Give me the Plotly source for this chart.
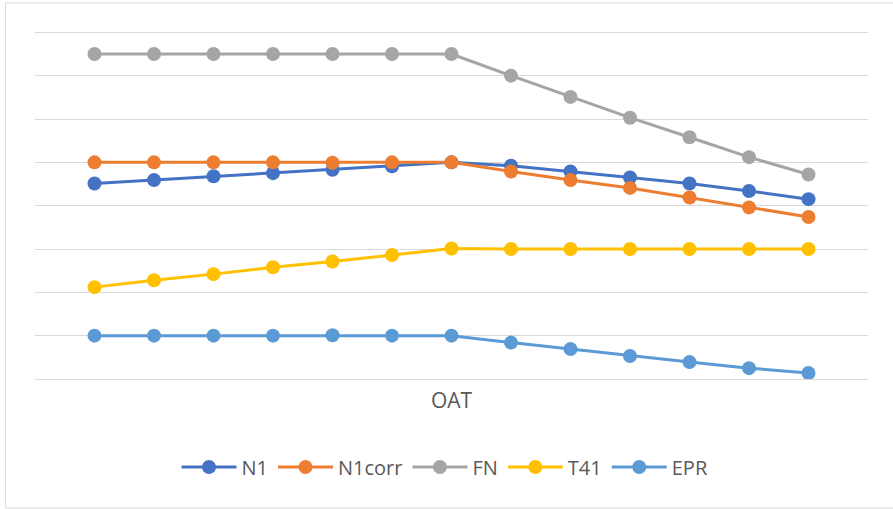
import plotly.graph_objects as go

# Data (y-axis has no labels, 1 unit per gridline)
oat_points = list(range(13))
n1 = [4.51, 4.59, 4.68, 4.75, 4.83, 4.91, 5.00, 4.92, 4.79, 4.65, 4.51, 4.34, 4.15]
n1corr = [5.00, 5.00, 5.00, 5.00, 4.99, 5.00, 5.00, 4.79, 4.59, 4.41, 4.19, 3.96, 3.74]
fn = [7.50, 7.50, 7.50, 7.50, 7.50, 7.50, 7.50, 7.00, 6.51, 6.03, 5.58, 5.12, 4.72]
t41 = [2.12, 2.28, 2.42, 2.58, 2.71, 2.86, 3.01, 3.00, 3.00, 3.00, 3.00, 3.00, 3.00]
epr = [1.00, 1.00, 1.00, 1.00, 1.01, 1.00, 1.00, 0.84, 0.69, 0.53, 0.39, 0.25, 0.14]

series_names = ["N1", "N1corr", "FN", "T41", "EPR"]
series_values = [n1, n1corr, fn, t41, epr]
series_colors = ["#4472C4", "#ED7D31", "#A5A5A5", "#FFC000", "#5B9BD5"]

fig = go.Figure()
for name, vals, col in zip(series_names, series_values, series_colors):
    fig.add_trace(go.Scatter(
        x=oat_points, y=vals, name=name, mode="lines+markers",
        line=dict(color=col, width=3),
        marker=dict(color=col, size=14),
    ))

W, H = 893, 509
L, R, T, B = 35, 25, 28, 130
pw, ph = W - L - R, H - T - B

def px_x(p):
    return (p - L) / pw

def px_y(p):
    return (H - B - p) / ph

fig.update_layout(
    width=W, height=H,
    margin=dict(l=L, r=R, t=T, b=B),
    paper_bgcolor="white", plot_bgcolor="white",
    font=dict(family="Open Sans, Noto Sans, sans-serif", color="#595959"),
    showlegend=True,
    legend=dict(
        orientation="h", xanchor="center", yanchor="middle",
        x=px_x(445), y=px_y(467),
        font=dict(size=20, color="#595959"),
        itemwidth=55,
    ),
    xaxis=dict(
        range=[-1, 13], showticklabels=False, ticks="", showgrid=False,
        zeroline=False, showline=True, linecolor="#d9d9d9", linewidth=1,
        title=dict(text="OAT", font=dict(size=21, color="#595959"), standoff=14),
    ),
    yaxis=dict(
        range=[0, 8.1], dtick=1, tick0=0, showticklabels=False, ticks="",
        showgrid=True, gridcolor="#d9d9d9", gridwidth=1, zeroline=False,
    ),
    shapes=[dict(
        type="rect", xref="paper", yref="paper",
        x0=px_x(5.5), x1=px_x(905), y0=px_y(508), y1=px_y(3),
        line=dict(color="#d9d9d9", width=1), layer="below",
    )],
)

fig.write_html(
    "out.html",
    config={"displayModeBar": False},
    post_script="document.body.style.margin='0';document.body.style.padding='0';",
)
